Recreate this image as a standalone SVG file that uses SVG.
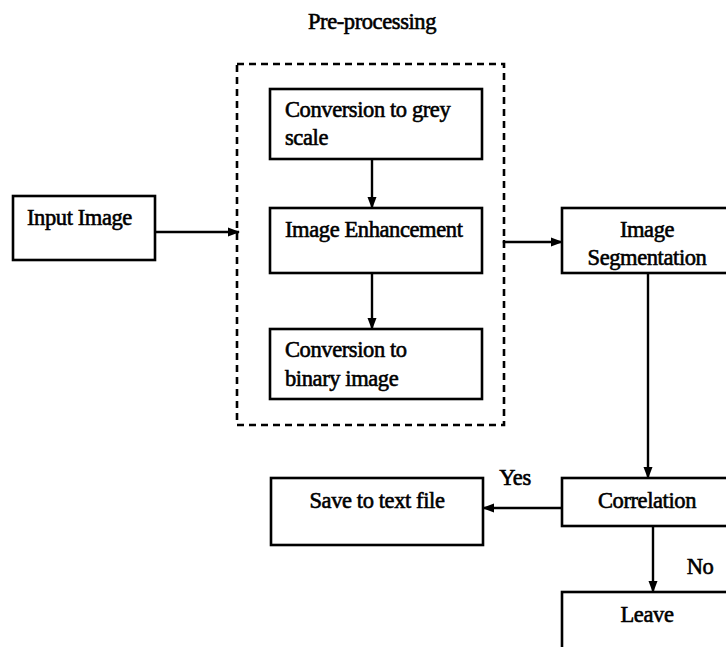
<svg xmlns="http://www.w3.org/2000/svg" width="726" height="647" viewBox="0 0 726 647">
<defs>
<marker id="ah" markerWidth="12" markerHeight="12" refX="11" refY="6" orient="auto" markerUnits="userSpaceOnUse">
<path d="M0,1.5 L12,6 L0,10.5 Z" fill="#000"/>
</marker>
<style>
.box{fill:#fff;stroke:#000;stroke-width:2.6}
.dash{fill:none;stroke:#000;stroke-width:2.6;stroke-dasharray:7,5}
.ln{fill:none;stroke:#000;stroke-width:2.4}
text{font-family:"Liberation Serif","Times New Roman",serif;font-size:22.5px;letter-spacing:-0.4px;fill:#000;stroke:#000;stroke-width:0.6}
.c{text-anchor:middle}
</style>
</defs>
<rect width="726" height="647" fill="#fff"/>
<text class="c" x="372" y="29">Pre-processing</text>
<rect id="preproc" class="dash" x="237" y="64" width="267" height="361"/>
<g id="input"><rect class="box" x="13" y="196" width="142" height="64"/><text x="27" y="225">Input Image</text></g>
<g id="grey"><rect class="box" x="270" y="89" width="212" height="70"/><text x="285" y="117">Conversion to grey</text><text x="285" y="145">scale</text></g>
<g id="enh"><rect class="box" x="270" y="208" width="212" height="65"/><text x="285" y="237">Image Enhancement</text></g>
<g id="bin"><rect class="box" x="270" y="329" width="212" height="70"/><text x="285" y="357">Conversion to</text><text x="285" y="386">binary image</text></g>
<g id="seg"><rect class="box" x="562" y="208" width="170" height="65"/><text class="c" x="647" y="237">Image</text><text class="c" x="647" y="265">Segmentation</text></g>
<g id="corr"><rect class="box" x="562" y="478" width="170" height="48"/><text class="c" x="647" y="508">Correlation</text></g>
<g id="save"><rect class="box" x="271" y="478" width="212" height="67"/><text class="c" x="377" y="508">Save to text file</text></g>
<g id="leave"><rect class="box" x="562" y="592" width="170" height="70"/><text class="c" x="647" y="622">Leave</text></g>
<g id="connectors">
<line class="ln" x1="155" y1="232" x2="239" y2="232" marker-end="url(#ah)"/>
<line class="ln" x1="372" y1="159" x2="372" y2="208" marker-end="url(#ah)"/>
<line class="ln" x1="372" y1="273" x2="372" y2="329" marker-end="url(#ah)"/>
<path class="ln" d="M504,240 L504,242 L562,242" marker-end="url(#ah)"/>
<line class="ln" x1="648" y1="273" x2="648" y2="478" marker-end="url(#ah)"/>
<line class="ln" x1="562" y1="508" x2="483" y2="508" marker-end="url(#ah)"/>
<line class="ln" x1="653" y1="526" x2="653" y2="592" marker-end="url(#ah)"/>
<text class="c" x="515" y="485">Yes</text>
<text class="c" x="700" y="574">No</text>
</g>
</svg>
